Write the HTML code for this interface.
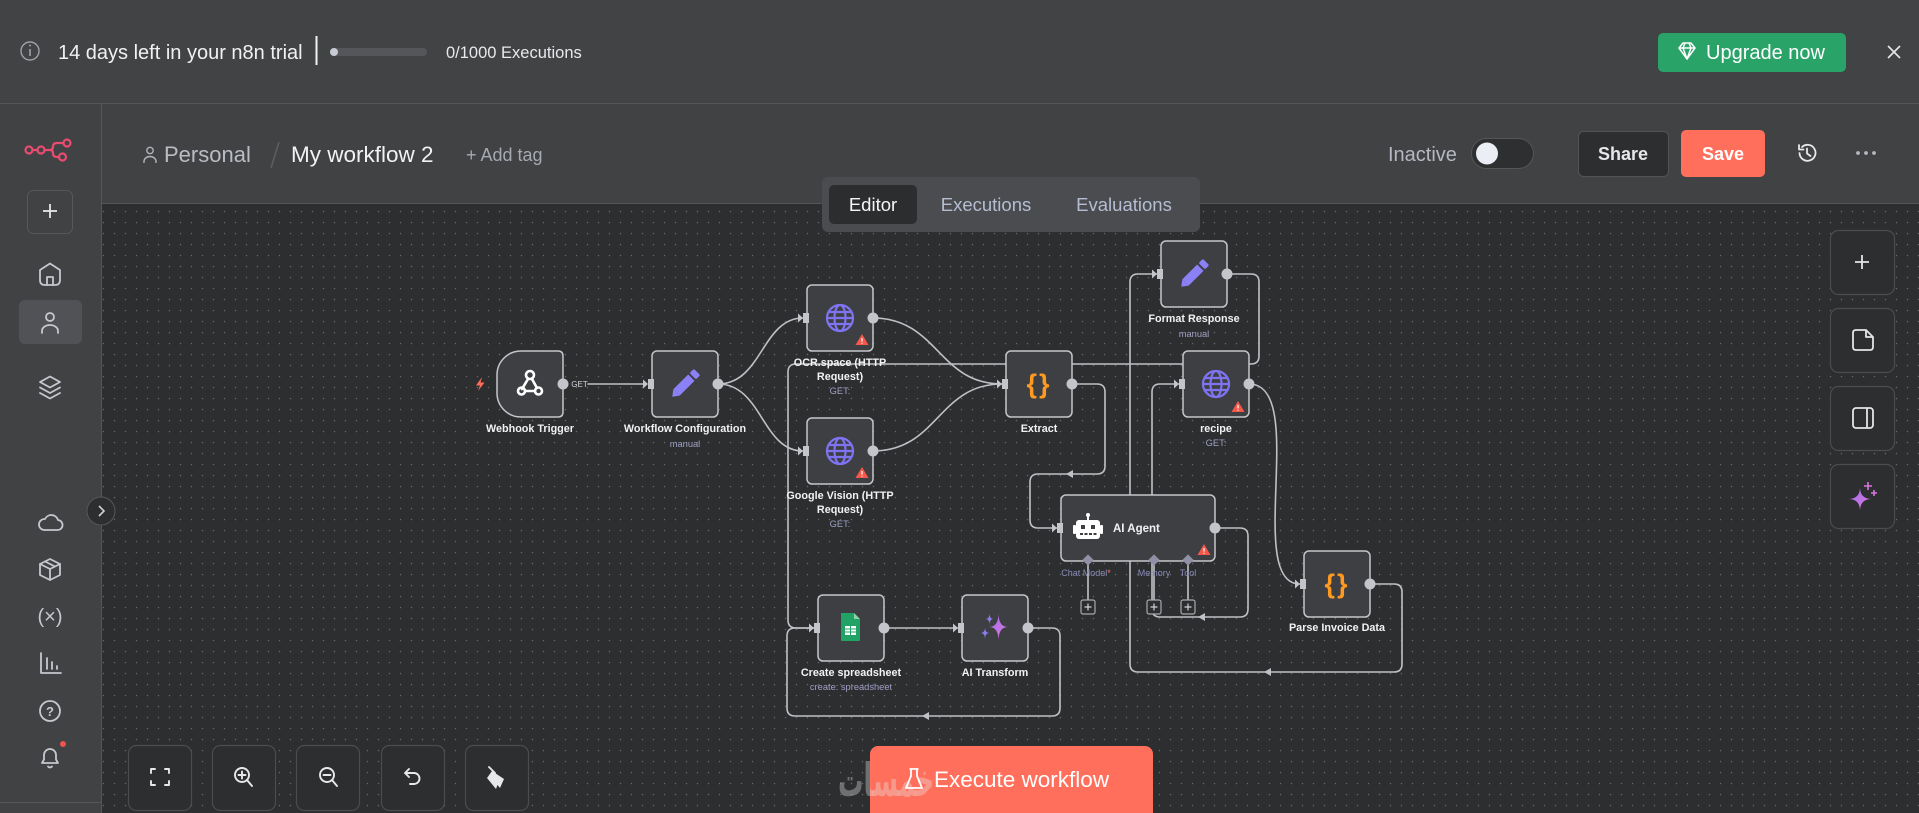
<!DOCTYPE html>
<html><head><meta charset="utf-8"><style>
html,body{margin:0;padding:0;background:#2d2e30;width:1919px;height:813px;overflow:hidden}
svg{display:block}
svg text{font-family:"Liberation Sans",sans-serif}
</style></head><body>
<svg width="1919" height="813" viewBox="0 0 1919 813" xmlns="http://www.w3.org/2000/svg">
<defs>
<pattern id="dots" x="98" y="206" width="11" height="11" patternUnits="userSpaceOnUse">
<circle cx="5.5" cy="5.5" r="0.75" fill="#66676c"/>
</pattern>
<linearGradient id="spk" x1="0" y1="0" x2="1" y2="1"><stop offset="0" stop-color="#9b6cf0"/><stop offset="1" stop-color="#e07bd8"/></linearGradient>
</defs>

<!-- canvas -->
<rect x="102" y="204" width="1817" height="609" fill="#2d2e30"/>
<rect x="102" y="204" width="1817" height="609" fill="url(#dots)"/>

<!-- top banner -->
<rect x="0" y="0" width="1919" height="103" fill="#424345"/>
<line x1="0" y1="103.5" x2="1919" y2="103.5" stroke="#555659" stroke-width="1"/>
<circle cx="30" cy="51" r="9" fill="none" stroke="#9ea1a8" stroke-width="1.4"/>
<line x1="30" y1="49" x2="30" y2="56" stroke="#9ea1a8" stroke-width="1.6"/>
<circle cx="30" cy="45.5" r="1" fill="#9ea1a8"/>
<text x="58" y="59" font-size="20" fill="#f0f1f3">14 days left in your n8n trial</text>
<line x1="316.5" y1="36" x2="316.5" y2="65" stroke="#f0f1f3" stroke-width="2"/>
<rect x="330" y="48" width="97" height="8" rx="4" fill="#55565a"/>
<circle cx="334" cy="52" r="4" fill="#c8cbd3"/>
<text x="446" y="58" font-size="16.5" fill="#e8e9ec">0/1000 Executions</text>
<rect x="1658" y="33" width="188" height="39" rx="5" fill="#2aa368"/>
<g stroke="#fff" stroke-width="1.5" fill="none" stroke-linejoin="round">
<path d="M1679,48 L1683,43 H1691 L1695,48 L1687,59 Z"/>
<path d="M1679,48 H1695 M1685,43 L1683,48 L1687,59 L1691,48 L1689,43"/>
</g>
<text x="1706" y="59" font-size="20" fill="#ffffff">Upgrade now</text>
<g stroke="#e8e8ea" stroke-width="1.6"><line x1="1888" y1="46" x2="1900" y2="58"/><line x1="1900" y1="46" x2="1888" y2="58"/></g>

<!-- sidebar -->
<rect x="0" y="104" width="101" height="709" fill="#414244"/>
<line x1="101.5" y1="104" x2="101.5" y2="813" stroke="#555659" stroke-width="1"/>
<line x1="0" y1="802.5" x2="101" y2="802.5" stroke="#555659" stroke-width="1"/>
<g stroke="#ea4b71" stroke-width="2.2" fill="none">
<circle cx="29" cy="150" r="3.5"/><circle cx="41" cy="150" r="3.5"/>
<line x1="32.5" y1="150" x2="37.5" y2="150"/><line x1="44.5" y1="150" x2="50" y2="150"/>
<path d="M50,150 Q53,150 53,146.5 Q53,143 57,143 H63.5"/>
<path d="M50,150 Q53,150 53,153.5 Q53,157 57,157 H59"/>
<circle cx="67" cy="143" r="3.5"/><circle cx="62.5" cy="157" r="3.5"/>
</g>
<rect x="27.5" y="190.5" width="45" height="43" rx="6" fill="none" stroke="#57585c"/>
<g stroke="#e6e7ea" stroke-width="1.8"><line x1="43" y1="211" x2="57" y2="211"/><line x1="50" y1="204" x2="50" y2="218"/></g>
<rect x="19" y="300" width="63" height="44" rx="6" fill="#515256"/>
<g stroke="#c5c8cf" stroke-width="1.8" fill="none" stroke-linejoin="round" stroke-linecap="round">
<path d="M40,280 V270 L50,263.5 L60,270 V280 Q60,285 55,285 H45 Q40,285 40,280 Z"/>
<path d="M47,285 V277 H53 V285"/>
<circle cx="50" cy="317" r="4"/>
<path d="M42,333 V331 A8,6 0 0 1 58,331 V333"/>
<path d="M40,382 L50,376.5 L60,382 L50,387.5 Z"/>
<path d="M40,387.5 L50,393 L60,387.5"/>
<path d="M40,393 L50,398.5 L60,393"/>
<path d="M44,530 H57 A5,5 0 0 0 58,520 A7,7 0 0 0 45,519 A5.5,5.5 0 0 0 44,530 Z"/>
<path d="M40,564 L50,559 L60,564 V575 L50,580 L40,575 Z"/>
<path d="M40,564 L50,569 L60,564 M50,569 V580 M45,561.5 L55,566.5"/>
<path d="M41,653 V673 H61 M47,658 V669 M52,662 V669 M57,666 V669"/>
<circle cx="50" cy="711" r="10"/>
<path d="M42,763 H58 L56,759.5 V755 A6,6 0 0 0 44,755 V759.5 Z"/>
<path d="M48,766.5 Q50,768.5 52,766.5"/>
</g>
<text x="50" y="623" font-size="20" fill="#c5c8cf" text-anchor="middle">(×)</text>
<text x="50" y="716" font-size="13" font-weight="bold" fill="#c5c8cf" text-anchor="middle">?</text>
<circle cx="63" cy="744" r="3" fill="#f0524f"/>
<circle cx="101" cy="511" r="14" fill="#2d2e30" stroke="#56575b"/>
<path d="M99,506 L104,511 L99,516" fill="none" stroke="#d0d1d5" stroke-width="1.6"/>

<!-- header -->
<rect x="102" y="104" width="1817" height="99" fill="#414244"/>
<line x1="102" y1="203.5" x2="1919" y2="203.5" stroke="#555659" stroke-width="1"/>
<g stroke="#b0b3ba" stroke-width="1.4" fill="none">
<circle cx="150" cy="150.5" r="3.2"/>
<path d="M144,163 V161.5 A6,5 0 0 1 156,161.5 V163"/>
</g>
<text x="164" y="162" font-size="22" fill="#b9bcc3">Personal</text>
<line x1="279" y1="142" x2="271" y2="168" stroke="#5c5d61" stroke-width="1.6"/>
<text x="291" y="162" font-size="22.5" fill="#f2f2f4">My workflow 2</text>
<text x="466" y="161" font-size="18" fill="#a6a9b1">+ Add tag</text>
<text x="1388" y="161" font-size="20" fill="#b5b8c0">Inactive</text>
<rect x="1471.5" y="138.5" width="62" height="30" rx="15" fill="#2e2f31" stroke="#55565a"/>
<circle cx="1487" cy="153.5" r="11" fill="#eceef5"/>
<rect x="1578.5" y="131.5" width="90" height="45" rx="5" fill="#2d2e30" stroke="#525357"/>
<text x="1623" y="160" font-size="18" font-weight="bold" fill="#e6e7ea" text-anchor="middle">Share</text>
<rect x="1681" y="130" width="84" height="47" rx="5" fill="#ff6f5c"/>
<text x="1723" y="160" font-size="18" font-weight="bold" fill="#ffffff" text-anchor="middle">Save</text>
<g stroke="#e8e8ea" stroke-width="1.8" fill="none" stroke-linecap="round" stroke-linejoin="round">
<path d="M1799.5,153 A8,8 0 1 0 1802,147"/>
<path d="M1799,145 V149.5 H1803.5"/>
<path d="M1807,148.5 V153.5 L1810.5,156"/>
</g>
<circle cx="1858" cy="153" r="1.9" fill="#b5b8c0"/><circle cx="1866" cy="153" r="1.9" fill="#b5b8c0"/><circle cx="1874" cy="153" r="1.9" fill="#b5b8c0"/>

<!-- tabs -->
<rect x="822" y="177" width="378" height="55" rx="6" fill="#4b4c4f"/>
<rect x="829" y="185" width="88" height="39" rx="5" fill="#2c2d2f"/>
<text x="873" y="211" font-size="18.5" fill="#f5f5f7" text-anchor="middle">Editor</text>
<text x="986" y="211" font-size="18.5" fill="#b4bdd2" text-anchor="middle">Executions</text>
<text x="1124" y="211" font-size="18.5" fill="#b4bdd2" text-anchor="middle">Evaluations</text>

<!-- edges -->
<g stroke="#c0c1c6" stroke-width="1.6" fill="none" stroke-linecap="round" stroke-linejoin="round">
<path d="M588,384 H644"/>
<path d="M718,384 C762,384 762,318 803,318"/>
<path d="M718,384 C762,384 762,451 803,451"/>
<path d="M873,318 C938,318 938,384 1002,384"/>
<path d="M873,451 C938,451 938,384 1002,384"/>
<path d="M1072,384 H1097 Q1105,384 1105,392 V466 Q1105,474 1097,474 H1038 Q1030,474 1030,482 V520 Q1030,528 1038,528 H1057"/>
<path d="M1215,528 H1240 Q1248,528 1248,536 V609 Q1248,617 1240,617 H1160 Q1152,617 1152,609 V392 Q1152,384 1160,384 H1179"/>
<path d="M1249,384 C1309,384 1244,584 1300,584"/>
<path d="M1370,584 H1394 Q1402,584 1402,592 V664 Q1402,672 1394,672 H1138 Q1130,672 1130,664 V282 Q1130,274 1138,274 H1157"/>
<path d="M1227,274 H1251 Q1259,274 1259,282 V356 Q1259,364 1251,364 H796 Q788,364 788,372 V620 Q788,628 796,628 H814"/>
<path d="M884,628 H958"/>
<path d="M1028,628 H1052 Q1060,628 1060,636 V708 Q1060,716 1052,716 H795 Q787,716 787,708 V636 Q787,628 795,628 H814"/>
<path d="M1088,564 V600 M1154,564 V600 M1188,564 V600"/>
</g>
<g fill="#c0c1c6">
<polygon points="1066,474 1073,470 1073,478"/>
<polygon points="1198,617 1205,613 1205,621"/>
<polygon points="1264,672 1271,668 1271,676"/>
<polygon points="922,716 929,712 929,720"/>
</g>
<text x="579.5" y="387" font-size="8" fill="#d4d5d9" text-anchor="middle">GET</text>

<!-- nodes -->
<g fill="#3e3f42" stroke="#c5c6cb" stroke-width="1.5">
<path d="M563,356 V412 Q563,417 558,417 H521 A24,24 0 0 1 497,393 V375 A24,24 0 0 1 521,351 H558 Q563,351 563,356 Z"/>
<rect x="652" y="351" width="66" height="66" rx="5"/>
<rect x="807" y="285" width="66" height="66" rx="5"/>
<rect x="807" y="418" width="66" height="66" rx="5"/>
<rect x="1006" y="351" width="66" height="66" rx="5"/>
<rect x="1161" y="241" width="66" height="66" rx="5"/>
<rect x="1183" y="351" width="66" height="66" rx="5"/>
<rect x="1061" y="495" width="154" height="66" rx="5"/>
<rect x="1304" y="551" width="66" height="66" rx="5"/>
<rect x="818" y="595" width="66" height="66" rx="5"/>
<rect x="962" y="595" width="66" height="66" rx="5"/>
</g>

<!-- input handles -->
<g fill="#c4c5ca">
<polygon points="643,379.5 648,384 643,388.5"/><rect x="648" y="379" width="6" height="10"/>
<polygon points="798,313.5 803,318 798,322.5"/><rect x="803" y="313" width="6" height="10"/>
<polygon points="798,446.5 803,451 798,455.5"/><rect x="803" y="446" width="6" height="10"/>
<polygon points="997,379.5 1002,384 997,388.5"/><rect x="1002" y="379" width="6" height="10"/>
<polygon points="1152,269.5 1157,274 1152,278.5"/><rect x="1157" y="269" width="6" height="10"/>
<polygon points="1174,379.5 1179,384 1174,388.5"/><rect x="1179" y="379" width="6" height="10"/>
<polygon points="1052,523.5 1057,528 1052,532.5"/><rect x="1057" y="523" width="6" height="10"/>
<polygon points="1295,579.5 1300,584 1295,588.5"/><rect x="1300" y="579" width="6" height="10"/>
<polygon points="809,623.5 814,628 809,632.5"/><rect x="814" y="623" width="6" height="10"/>
<polygon points="953,623.5 958,628 953,632.5"/><rect x="958" y="623" width="6" height="10"/>
<!-- output dots -->
<circle cx="563" cy="384" r="5.5"/>
<circle cx="718" cy="384" r="5.5"/>
<circle cx="873" cy="318" r="5.5"/>
<circle cx="873" cy="451" r="5.5"/>
<circle cx="1072" cy="384" r="5.5"/>
<circle cx="1227" cy="274" r="5.5"/>
<circle cx="1249" cy="384" r="5.5"/>
<circle cx="1215" cy="528" r="5.5"/>
<circle cx="1370" cy="584" r="5.5"/>
<circle cx="884" cy="628" r="5.5"/>
<circle cx="1028" cy="628" r="5.5"/>
</g>

<!-- AI agent sub handles -->
<g fill="#8f90a5">
<rect x="1084" y="556" width="8" height="8" transform="rotate(45 1088 560)"/>
<rect x="1150" y="556" width="8" height="8" transform="rotate(45 1154 560)"/>
<rect x="1184" y="556" width="8" height="8" transform="rotate(45 1188 560)"/>
</g>
<g fill="#2d2e30" stroke="#a8a9ae" stroke-width="1.2">
<rect x="1081" y="600" width="14" height="14" rx="2"/>
<rect x="1147" y="600" width="14" height="14" rx="2"/>
<rect x="1181" y="600" width="14" height="14" rx="2"/>
</g>
<g stroke="#d0d1d5" stroke-width="1.2">
<path d="M1084.5,607 H1091.5 M1088,603.5 V610.5"/>
<path d="M1150.5,607 H1157.5 M1154,603.5 V610.5"/>
<path d="M1184.5,607 H1191.5 M1188,603.5 V610.5"/>
</g>
<text x="1086" y="576" font-size="9" fill="#8c8cb8" text-anchor="middle">Chat Model<tspan fill="#ff6d5a">*</tspan></text>
<text x="1154" y="576" font-size="9" fill="#8c8cb8" text-anchor="middle">Memory</text>
<text x="1188" y="576" font-size="9" fill="#8c8cb8" text-anchor="middle">Tool</text>

<!-- icons in nodes -->
<polygon points="482,377 476,385.5 480,385.5 478,391 484.5,382.5 480.5,382.5" fill="#ff6d5a"/>
<g stroke="#ffffff" stroke-width="2.6" fill="none" stroke-linecap="round">
<circle cx="530" cy="375" r="4"/>
<circle cx="521.5" cy="391" r="3.5"/>
<circle cx="538.5" cy="391" r="3.5"/>
<path d="M528,379 L522,389"/>
<path d="M532,379 L537,388"/>
<path d="M525,391 H535"/>
</g>
<g transform="translate(685,384) rotate(-45)" fill="#8b80f5">
<rect x="-12" y="-4.5" width="21" height="9"/>
<rect x="11" y="-4.5" width="6" height="9" rx="1.5"/>
<polygon points="-12,-4.5 -18,0 -12,4.5"/>
</g>
<g transform="translate(1194,274) rotate(-45)" fill="#8b80f5">
<rect x="-12" y="-4.5" width="21" height="9"/>
<rect x="11" y="-4.5" width="6" height="9" rx="1.5"/>
<polygon points="-12,-4.5 -18,0 -12,4.5"/>
</g>
<g stroke="#7e74f1" stroke-width="2.2" fill="none">
<circle cx="840" cy="318" r="13"/><ellipse cx="840" cy="318" rx="5.5" ry="13"/><path d="M827,318 H853 M829,312 H851 M829,324 H851"/>
<circle cx="840" cy="451" r="13"/><ellipse cx="840" cy="451" rx="5.5" ry="13"/><path d="M827,451 H853 M829,445 H851 M829,457 H851"/>
<circle cx="1216" cy="384" r="13"/><ellipse cx="1216" cy="384" rx="5.5" ry="13"/><path d="M1203,384 H1229 M1205,378 H1227 M1205,390 H1227"/>
</g>
<text x="1039" y="393" font-size="27" font-weight="bold" fill="#ff9922" text-anchor="middle" letter-spacing="2">{}</text>
<text x="1337" y="593" font-size="27" font-weight="bold" fill="#ff9922" text-anchor="middle" letter-spacing="2">{}</text>
<!-- warnings -->
<g fill="#f5584a">
<path d="M862,334 L868.5,345 H855.5 Z"/>
<path d="M862,467 L868.5,478 H855.5 Z"/>
<path d="M1238,401 L1244.5,412 H1231.5 Z"/>
<path d="M1204,544 L1210.5,555 H1197.5 Z"/>
</g>
<g stroke="#fff" stroke-width="1.2">
<path d="M862,338 V341.5 M862,342.8 V343.8"/>
<path d="M862,471 V474.5 M862,475.8 V476.8"/>
<path d="M1238,405 V408.5 M1238,409.8 V410.8"/>
<path d="M1204,548 V551.5 M1204,552.8 V553.8"/>
</g>
<!-- robot -->
<g fill="#ffffff">
<rect x="1076" y="520" width="24" height="19" rx="3"/>
<rect x="1073" y="525" width="3" height="9" rx="1"/>
<rect x="1100" y="525" width="3" height="9" rx="1"/>
<rect x="1087" y="515" width="2" height="5"/>
<circle cx="1088" cy="515" r="2"/>
</g>
<g fill="#3e3f42">
<rect x="1081" y="525" width="4" height="4"/><rect x="1091" y="525" width="4" height="4"/>
<rect x="1080" y="533" width="3" height="2"/><rect x="1084.5" y="533" width="3" height="2"/><rect x="1089" y="533" width="3" height="2"/><rect x="1093.5" y="533" width="3" height="2"/>
</g>
<text x="1113" y="532" font-size="11.5" font-weight="bold" fill="#f2f2f4">AI Agent</text>
<!-- sheets -->
<path d="M841,613 H854 L860,619 V640 Q860,641 859,641 H842 Q841,641 841,640 Z" fill="#21a366"/>
<path d="M854,613 L860,619 H854 Z" fill="#8ed1a8"/>
<rect x="845" y="626" width="11" height="9" fill="#fff"/>
<g stroke="#21a366" stroke-width="1"><path d="M845,629 H856 M845,632 H856 M850.5,626 V635"/></g>
<!-- sparkles -->
<path d="M998.5,613 Q998.5,627 1008,627 Q998.5,627 998.5,641 Q998.5,627 989,627 Q998.5,627 998.5,613 Z" fill="url(#spk)"/>
<path d="M989.5,613 Q989.5,619 993.5,619 Q989.5,619 989.5,625 Q989.5,619 985.5,619 Q989.5,619 989.5,613 Z" fill="#8a7ff0"/>
<path d="M985,627 Q985,633 989.5,633 Q985,633 985,639 Q985,633 980.5,633 Q985,633 985,627 Z" fill="#8a7ff0"/>

<!-- node labels -->
<g font-size="10.8" font-weight="bold" fill="#f2f2f4" text-anchor="middle">
<text x="530" y="432">Webhook Trigger</text>
<text x="685" y="432">Workflow Configuration</text>
<text x="840" y="366">OCR.space (HTTP</text>
<text x="840" y="380">Request)</text>
<text x="840" y="499">Google Vision (HTTP</text>
<text x="840" y="513">Request)</text>
<text x="1039" y="432">Extract</text>
<text x="1194" y="322">Format Response</text>
<text x="1216" y="432">recipe</text>
<text x="1337" y="631">Parse Invoice Data</text>
<text x="851" y="676">Create spreadsheet</text>
<text x="995" y="676">AI Transform</text>
</g>
<g font-size="9.3" fill="#a0a0c6" text-anchor="middle">
<text x="685" y="447">manual</text>
<text x="840" y="394">GET:</text>
<text x="840" y="527">GET:</text>
<text x="1194" y="337">manual</text>
<text x="1216" y="446">GET:</text>
<text x="851" y="690">create: spreadsheet</text>
</g>

<!-- right panel buttons -->
<g fill="#2d2e30" stroke="#4b4c50" stroke-width="1.2">
<rect x="1830.5" y="230.5" width="64" height="64" rx="8"/>
<rect x="1830.5" y="308.5" width="64" height="64" rx="8"/>
<rect x="1830.5" y="386.5" width="64" height="64" rx="8"/>
<rect x="1830.5" y="464.5" width="64" height="64" rx="8"/>
</g>
<g stroke="#e5e5e8" stroke-width="1.8" fill="none" stroke-linejoin="round">
<path d="M1855,262 H1869 M1862,255 V269"/>
<path d="M1856,330 H1866 L1873,337 V347 Q1873,350 1870,350 H1856 Q1853,350 1853,347 V333 Q1853,330 1856,330 Z"/>
<path d="M1866,330 V337 H1873"/>
<rect x="1853" y="408" width="20" height="20" rx="3"/>
<path d="M1867,408 V428"/>
</g>
<path d="M1860,487 Q1860,499 1872,499 Q1860,499 1860,511 Q1860,499 1848,499 Q1860,499 1860,487 Z" fill="url(#spk)"/>
<g stroke="#d877e0" stroke-width="1.6"><path d="M1868,482 V490 M1864,486 H1872 M1874,490 V496 M1871,493 H1877"/></g>

<!-- bottom left buttons -->
<g fill="#2d2e30" stroke="#4b4c50" stroke-width="1.2">
<rect x="128.5" y="745.5" width="63" height="65" rx="8"/>
<rect x="212.5" y="745.5" width="63" height="65" rx="8"/>
<rect x="296.5" y="745.5" width="63" height="65" rx="8"/>
<rect x="381.5" y="745.5" width="63" height="65" rx="8"/>
<rect x="465.5" y="745.5" width="63" height="65" rx="8"/>
</g>
<g stroke="#e8e8ea" stroke-width="1.9" fill="none" stroke-linecap="round" stroke-linejoin="round">
<path d="M151,773 V769 H155 M165,769 H169 V773 M169,781 V785 H165 M155,785 H151 V781"/>
<circle cx="242" cy="775" r="7"/><path d="M247,780 L252,786 M238.5,775 H245.5 M242,771.5 V778.5"/>
<circle cx="327" cy="775" r="7"/><path d="M332,780 L337,786 M323.5,775 H330.5"/>
<path d="M409,769 L405,773 L409,777 M405,773 H414 A5.5,5.5 0 0 1 414,784 H410"/>
<path d="M489,767 L495,773"/>
</g>
<path d="M492,771 L504,779 L500,788 L497.5,785 L496,789 L487,778 Z" fill="#e8e8ea"/>

<!-- execute button -->
<rect x="870" y="746" width="283" height="75" rx="8" fill="#ff6f5c"/>
<text x="886" y="796" font-size="46" fill="rgba(230,230,230,0.36)" text-anchor="middle" textLength="96" lengthAdjust="spacingAndGlyphs" style="font-family:'DejaVu Sans',sans-serif" font-weight="bold">خمسات</text>
<g stroke="#ffffff" stroke-width="1.8" fill="none" stroke-linejoin="round">
<path d="M909.5,769 H918.5 M911,769 V776 L906,788 H922 L917,776 V769"/>
</g>
<text x="934" y="787" font-size="22.5" fill="#ffffff">Execute workflow</text>
</svg>
</body></html>
